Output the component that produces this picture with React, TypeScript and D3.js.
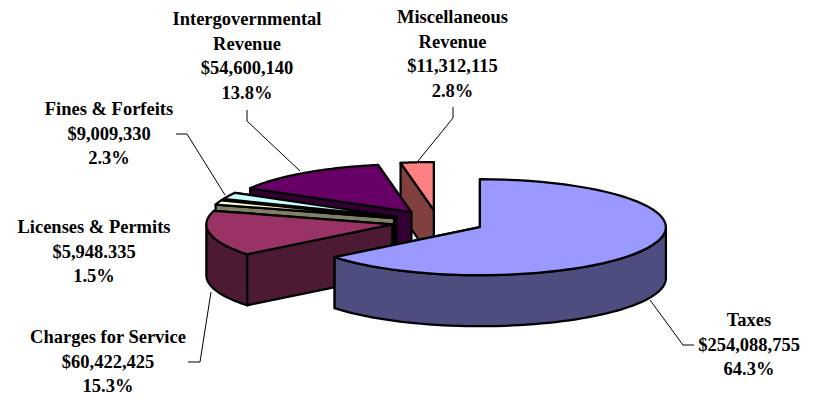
import React from "react";
import * as d3 from "d3";

// Revenue sources, clockwise from twelve o'clock
const sources = [
  "Taxes",
  "Charges for Service",
  "Licenses & Permits",
  "Fines & Forfeits",
  "Intergovernmental Revenue",
  "Miscellaneous Revenue",
];
const amounts = [254088755, 60422425, 5948335, 9009330, 54600140, 11312115];
const topColors = ["#9999ff", "#993366", "#ffffcc", "#ccffff", "#660066", "#ff8080"];
const sideColors = ["#4d4d80", "#4d1a33", "#808066", "#668080", "#330033", "#804040"];

const labelLines = [
  ["Taxes", "$254,088,755", "64.3%"],
  ["Charges for Service", "$60,422,425", "15.3%"],
  ["Licenses & Permits", "$5,948.335", "1.5%"],
  ["Fines & Forfeits", "$9,009,330", "2.3%"],
  ["Intergovernmental", "Revenue", "$54,600,140", "13.8%"],
  ["Miscellaneous", "Revenue", "$11,312,115", "2.8%"],
];
const labelAnchors: [number, number][] = [
  [749, 326],
  [108, 343],
  [94, 233],
  [109, 115],
  [247, 25],
  [452.5, 23],
];
const leaders: ([number, number][] | null)[] = [
  [[694, 345], [683, 345], [650, 300]],
  [[188, 362], [200, 362], [211, 292]],
  null,
  [[176, 134], [187, 134], [225, 195]],
  [[247, 110], [247, 121], [300, 171]],
  [[453, 107], [453, 118], [418, 161]],
];

const WIDTH = 820;
const HEIGHT = 398;
const CX = 438;
const CY = 222;
const RX = 186;
const RY = 48;
const DEPTH = 51;
const EXPLODE = 0.25;
const LINE_HEIGHT = 24.5;

// Projects a pie angle (clockwise from north) at the given radius fraction onto the tilted plane
const project = (a: number, r = 1): [number, number] => [
  r * RX * Math.sin(a),
  -r * RY * Math.cos(a),
];

const toPath = d3.line<[number, number]>();

const arcPoints = (a0: number, a1: number): [number, number][] =>
  d3.range(0, 61).map((i) => project(a0 + ((a1 - a0) * i) / 60));

const shift = (pts: [number, number][], dy: number): [number, number][] =>
  pts.map(([x, y]) => [x, y + dy]);

export default function App() {
  const arcs = d3
    .pie<number>()
    .sort(null)
    .value((d) => d)(amounts);

  const stroke = { stroke: "#000", strokeWidth: 2.25, strokeLinejoin: "round" as const };

  // Painted back to front so nearer wedges cover the ones behind them
  const order = [5, 4, 3, 2, 1, 0];

  return (
    <svg
      width={WIDTH}
      height={HEIGHT}
      viewBox={`0 0 ${WIDTH} ${HEIGHT}`}
      style={{ position: "absolute", left: 0, top: 0 }}
    >
      <rect width={WIDTH} height={HEIGHT} fill="#fff" />
      {order.map((i) => {
        const { startAngle: a0, endAngle: a1 } = arcs[i];
        const mid = (a0 + a1) / 2;
        const [ox, oy] = project(mid, EXPLODE);
        const apex: [number, number] = [0, 0];
        const rim0 = project(a0);
        const rim1 = project(a1);
        const faces = [
          [apex, rim1, shift([rim1], DEPTH)[0], shift([apex], DEPTH)[0]],
          [apex, rim0, shift([rim0], DEPTH)[0], shift([apex], DEPTH)[0]],
        ];
        const w0 = Math.max(a0, Math.PI / 2);
        const w1 = Math.min(a1, (3 * Math.PI) / 2);
        const wall = w1 > w0 ? arcPoints(w0, w1) : null;
        const top: [number, number][] = [apex, ...arcPoints(a0, a1)];
        return (
          <g key={sources[i]} transform={`translate(${CX + ox},${CY + oy})`}>
            {faces.map((f, k) => (
              <path key={k} d={toPath(f)! + "Z"} fill={sideColors[i]} {...stroke} />
            ))}
            {wall && (
              <path
                d={toPath([...wall, ...shift(wall, DEPTH).reverse()])! + "Z"}
                fill={sideColors[i]}
                {...stroke}
              />
            )}
            <path d={toPath(top)! + "Z"} fill={topColors[i]} {...stroke} />
          </g>
        );
      })}
      {leaders.map(
        (pts, i) =>
          pts && <path key={i} d={toPath(pts)!} fill="none" stroke="#000" strokeWidth={1} />
      )}
      {labelLines.map((lines, i) => (
        <text
          key={i}
          x={labelAnchors[i][0]}
          y={labelAnchors[i][1]}
          textAnchor="middle"
          fontFamily="'Liberation Serif', serif"
          fontWeight="bold"
          fontSize={18.5}
          fill="#000"
        >
          {lines.map((line, k) => (
            <tspan key={k} x={labelAnchors[i][0]} y={labelAnchors[i][1] + k * LINE_HEIGHT}>
              {line}
            </tspan>
          ))}
        </text>
      ))}
    </svg>
  );
}
